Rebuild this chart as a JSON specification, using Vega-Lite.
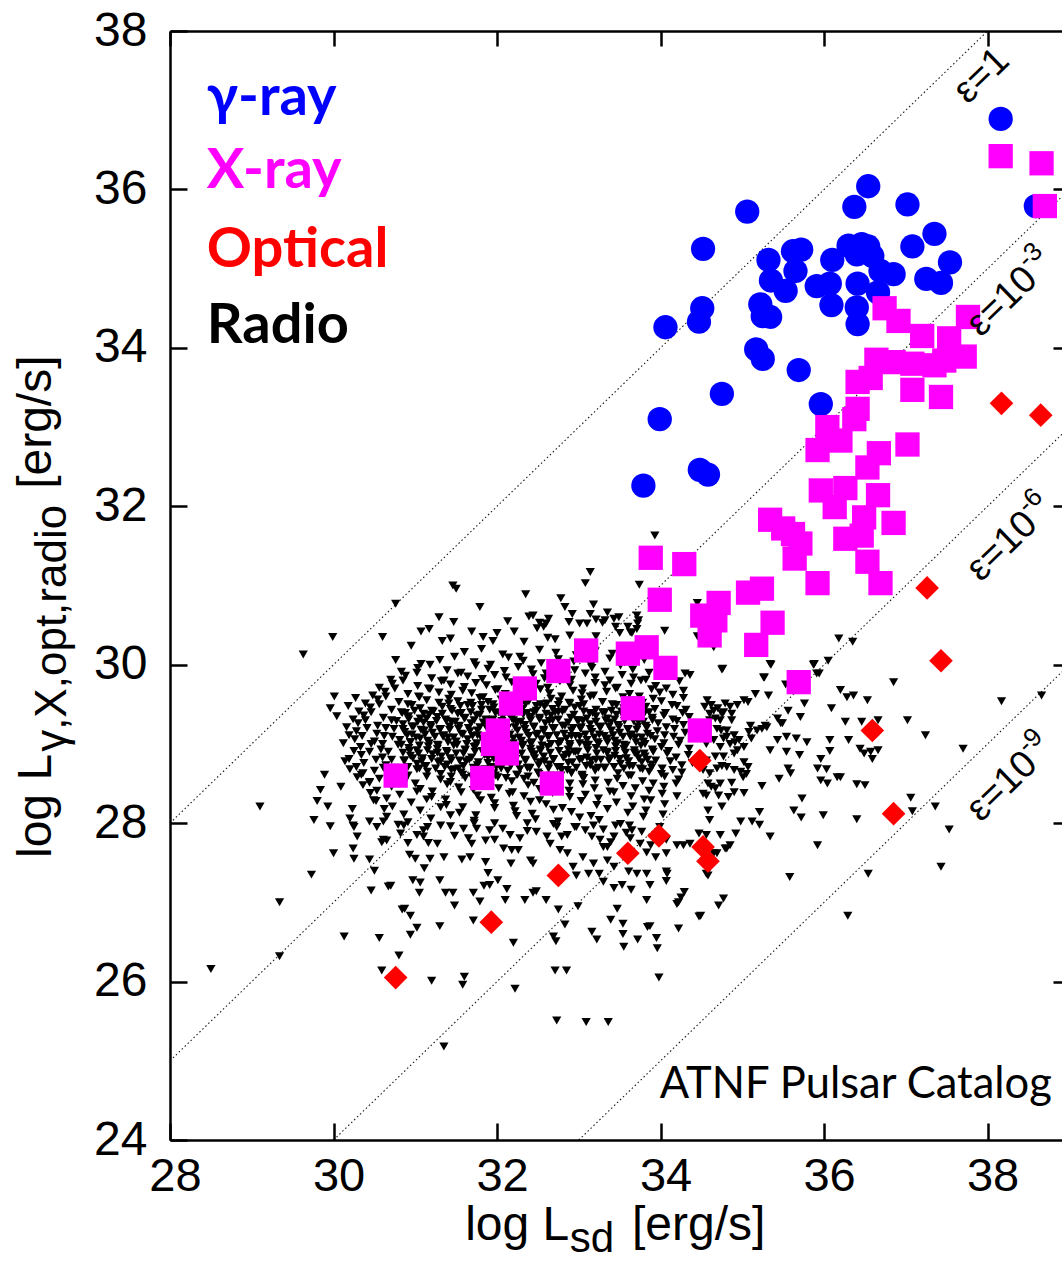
{
  "$schema": "https://vega.github.io/schema/vega-lite/v6.json",
  "width": 892,
  "height": 1109,
  "autosize": {"type": "none"},
  "padding": {"left": 170, "top": 31, "right": 0, "bottom": 123},
  "background": "white",
  "config": {"view": {"stroke": null}},
  "data": {"values": [{}]},
  "datasets": {
    "eps": [
      {"eps": "1", "x": 28, "y": 28}, {"eps": "1", "x": 38, "y": 38},
      {"eps": "1e-3", "x": 28, "y": 25}, {"eps": "1e-3", "x": 38.91, "y": 35.91},
      {"eps": "1e-6", "x": 30, "y": 24}, {"eps": "1e-6", "x": 38.91, "y": 32.91},
      {"eps": "1e-9", "x": 33, "y": 24}, {"eps": "1e-9", "x": 38.91, "y": 29.91}
    ],
    "gamma": [
      {"x": 38.16, "y": 36.89}, {"x": 38.59, "y": 35.79}, {"x": 36.54, "y": 36.04}, {"x": 36.37, "y": 35.78},
      {"x": 37.02, "y": 35.81}, {"x": 35.06, "y": 35.72}, {"x": 34.52, "y": 35.25}, {"x": 37.35, "y": 35.44},
      {"x": 37.08, "y": 35.28}, {"x": 37.54, "y": 35.08}, {"x": 37.25, "y": 34.87}, {"x": 37.43, "y": 34.82},
      {"x": 35.32, "y": 35.11}, {"x": 35.62, "y": 35.22}, {"x": 35.72, "y": 35.24}, {"x": 35.65, "y": 34.97},
      {"x": 35.35, "y": 34.85}, {"x": 35.53, "y": 34.72}, {"x": 36.10, "y": 35.11}, {"x": 36.30, "y": 35.29},
      {"x": 36.46, "y": 35.31}, {"x": 36.54, "y": 35.28}, {"x": 36.59, "y": 35.16}, {"x": 36.40, "y": 35.18},
      {"x": 36.69, "y": 34.97}, {"x": 36.85, "y": 34.93}, {"x": 35.91, "y": 34.78}, {"x": 36.07, "y": 34.81},
      {"x": 36.41, "y": 34.81}, {"x": 36.66, "y": 34.70}, {"x": 36.09, "y": 34.54}, {"x": 36.40, "y": 34.51},
      {"x": 36.41, "y": 34.30}, {"x": 34.51, "y": 34.50}, {"x": 34.47, "y": 34.33}, {"x": 34.06, "y": 34.26},
      {"x": 35.22, "y": 34.55}, {"x": 35.25, "y": 34.40}, {"x": 35.34, "y": 34.39}, {"x": 35.17, "y": 33.98},
      {"x": 35.25, "y": 33.86}, {"x": 35.69, "y": 33.72}, {"x": 34.75, "y": 33.42}, {"x": 33.99, "y": 33.10},
      {"x": 35.96, "y": 33.29}, {"x": 34.48, "y": 32.46}, {"x": 34.58, "y": 32.40}, {"x": 33.79, "y": 32.26}
    ],
    "xray": [
      {"x": 38.16, "y": 36.42}, {"x": 38.66, "y": 36.33}, {"x": 38.70, "y": 35.79}, {"x": 36.74, "y": 34.50},
      {"x": 36.91, "y": 34.34}, {"x": 37.76, "y": 34.39}, {"x": 37.20, "y": 34.15}, {"x": 37.53, "y": 34.12},
      {"x": 37.72, "y": 33.89}, {"x": 36.64, "y": 33.85}, {"x": 36.85, "y": 33.82}, {"x": 37.08, "y": 33.80},
      {"x": 37.35, "y": 33.78}, {"x": 37.47, "y": 33.84}, {"x": 36.41, "y": 33.57}, {"x": 36.57, "y": 33.62},
      {"x": 37.08, "y": 33.47}, {"x": 37.43, "y": 33.38}, {"x": 36.41, "y": 33.23}, {"x": 36.37, "y": 33.10},
      {"x": 36.04, "y": 33.00}, {"x": 37.02, "y": 32.78}, {"x": 36.67, "y": 32.67}, {"x": 36.20, "y": 32.83},
      {"x": 35.92, "y": 32.71}, {"x": 36.53, "y": 32.49}, {"x": 35.96, "y": 32.20}, {"x": 36.26, "y": 32.23},
      {"x": 36.66, "y": 32.14}, {"x": 36.13, "y": 31.99}, {"x": 36.49, "y": 31.86}, {"x": 36.85, "y": 31.79},
      {"x": 35.34, "y": 31.83}, {"x": 35.50, "y": 31.72}, {"x": 35.62, "y": 31.65}, {"x": 35.71, "y": 31.53},
      {"x": 36.26, "y": 31.59}, {"x": 36.46, "y": 31.63}, {"x": 35.64, "y": 31.34}, {"x": 36.53, "y": 31.30},
      {"x": 35.92, "y": 31.03}, {"x": 36.69, "y": 31.03}, {"x": 33.88, "y": 31.35}, {"x": 34.29, "y": 31.27},
      {"x": 33.99, "y": 30.82}, {"x": 34.71, "y": 30.78}, {"x": 35.07, "y": 30.91}, {"x": 35.24, "y": 30.96},
      {"x": 34.51, "y": 30.62}, {"x": 34.67, "y": 30.56}, {"x": 34.60, "y": 30.37}, {"x": 35.37, "y": 30.53},
      {"x": 35.17, "y": 30.25}, {"x": 35.69, "y": 29.78}, {"x": 33.83, "y": 30.22}, {"x": 33.60, "y": 30.14},
      {"x": 34.06, "y": 29.96}, {"x": 33.66, "y": 29.45}, {"x": 34.48, "y": 29.17}, {"x": 33.09, "y": 30.18},
      {"x": 32.75, "y": 29.92}, {"x": 32.34, "y": 29.70}, {"x": 32.17, "y": 29.51}, {"x": 32.01, "y": 29.17},
      {"x": 31.95, "y": 29.00}, {"x": 32.12, "y": 28.88}, {"x": 31.82, "y": 28.57}, {"x": 32.67, "y": 28.50},
      {"x": 30.76, "y": 28.60}
    ],
    "optical": [
      {"x": 38.17, "y": 33.30}, {"x": 38.65, "y": 33.15}, {"x": 37.26, "y": 30.97}, {"x": 37.43, "y": 30.05},
      {"x": 36.59, "y": 29.17}, {"x": 36.85, "y": 28.12}, {"x": 34.48, "y": 28.79}, {"x": 33.98, "y": 27.84},
      {"x": 33.60, "y": 27.62}, {"x": 34.52, "y": 27.70}, {"x": 34.58, "y": 27.52}, {"x": 32.75, "y": 27.34},
      {"x": 31.93, "y": 26.75}, {"x": 30.76, "y": 26.05}
    ],
    "radio": [
      {"x":31.60,"y":30.16},{"x":31.81,"y":30.20},{"x":32.07,"y":30.13},{"x":32.28,"y":30.10},{"x":32.52,"y":30.19},{"x":32.72,"y":30.15},{"x":32.97,"y":30.12},{"x":33.20,"y":30.17},{"x":33.41,"y":30.14},
      {"x":31.07,"y":30.01},{"x":31.30,"y":30.06},{"x":31.48,"y":30.10},{"x":31.72,"y":30.03},{"x":31.92,"y":30.00},{"x":32.14,"y":30.09},{"x":32.32,"y":30.05},{"x":32.54,"y":30.02},{"x":32.75,"y":30.07},{"x":32.94,"y":30.04},{"x":33.15,"y":29.99},{"x":33.38,"y":30.08},{"x":33.56,"y":30.03},{"x":33.80,"y":30.06},
      {"x":30.83,"y":29.91},{"x":31.03,"y":29.96},{"x":31.18,"y":30.00},{"x":31.39,"y":29.93},{"x":31.56,"y":29.90},{"x":31.74,"y":29.99},{"x":31.89,"y":29.95},{"x":32.09,"y":29.92},{"x":32.26,"y":29.97},{"x":32.42,"y":29.94},{"x":32.60,"y":29.89},{"x":32.79,"y":29.98},{"x":32.95,"y":29.93},{"x":33.16,"y":29.96},{"x":33.32,"y":29.91},{"x":33.51,"y":29.99},{"x":33.66,"y":29.94},{"x":33.86,"y":29.90},{"x":34.03,"y":29.97},
      {"x":30.70,"y":29.81},{"x":30.88,"y":29.86},{"x":31.02,"y":29.90},{"x":31.20,"y":29.83},{"x":31.35,"y":29.80},{"x":31.52,"y":29.89},{"x":31.64,"y":29.85},{"x":31.82,"y":29.82},{"x":31.97,"y":29.87},{"x":32.11,"y":29.84},{"x":32.26,"y":29.79},{"x":32.44,"y":29.88},{"x":32.58,"y":29.83},{"x":32.76,"y":29.86},{"x":32.91,"y":29.81},{"x":33.08,"y":29.89},{"x":33.20,"y":29.84},{"x":33.38,"y":29.80},{"x":33.53,"y":29.87},{"x":33.67,"y":29.84},{"x":33.82,"y":29.81},{"x":34.00,"y":29.86},{"x":34.14,"y":29.90},
      {"x":30.56,"y":29.71},{"x":30.72,"y":29.76},{"x":30.85,"y":29.80},{"x":31.03,"y":29.73},{"x":31.16,"y":29.70},{"x":31.32,"y":29.79},{"x":31.43,"y":29.75},{"x":31.60,"y":29.72},{"x":31.74,"y":29.77},{"x":31.87,"y":29.74},{"x":32.01,"y":29.69},{"x":32.18,"y":29.78},{"x":32.31,"y":29.73},{"x":32.48,"y":29.76},{"x":32.62,"y":29.71},{"x":32.77,"y":29.79},{"x":32.89,"y":29.74},{"x":33.05,"y":29.70},{"x":33.20,"y":29.77},{"x":33.32,"y":29.74},{"x":33.47,"y":29.71},{"x":33.64,"y":29.76},{"x":33.76,"y":29.80},{"x":33.94,"y":29.73},{"x":34.07,"y":29.70},{"x":34.23,"y":29.79},
      {"x":30.48,"y":29.61},{"x":30.63,"y":29.66},{"x":30.75,"y":29.70},{"x":30.91,"y":29.63},{"x":31.04,"y":29.60},{"x":31.18,"y":29.69},{"x":31.29,"y":29.65},{"x":31.44,"y":29.62},{"x":31.58,"y":29.67},{"x":31.69,"y":29.64},{"x":31.83,"y":29.59},{"x":31.98,"y":29.68},{"x":32.10,"y":29.63},{"x":32.26,"y":29.66},{"x":32.39,"y":29.61},{"x":32.53,"y":29.69},{"x":32.64,"y":29.64},{"x":32.79,"y":29.60},{"x":32.93,"y":29.67},{"x":33.04,"y":29.64},{"x":33.18,"y":29.61},{"x":33.34,"y":29.66},{"x":33.45,"y":29.70},{"x":33.62,"y":29.63},{"x":33.74,"y":29.60},{"x":33.89,"y":29.69},{"x":33.99,"y":29.65},{"x":34.15,"y":29.62},{"x":34.28,"y":29.67},
      {"x":30.27,"y":29.58},{"x":30.39,"y":29.51},{"x":30.54,"y":29.56},{"x":30.64,"y":29.60},{"x":30.80,"y":29.53},{"x":30.91,"y":29.50},{"x":31.05,"y":29.59},{"x":31.14,"y":29.55},{"x":31.29,"y":29.52},{"x":31.41,"y":29.57},{"x":31.52,"y":29.54},{"x":31.64,"y":29.49},{"x":31.79,"y":29.58},{"x":31.89,"y":29.53},{"x":32.05,"y":29.56},{"x":32.16,"y":29.51},{"x":32.30,"y":29.59},{"x":32.39,"y":29.54},{"x":32.53,"y":29.50},{"x":32.66,"y":29.57},{"x":32.76,"y":29.54},{"x":32.89,"y":29.51},{"x":33.03,"y":29.56},{"x":33.14,"y":29.60},{"x":33.29,"y":29.53},{"x":33.41,"y":29.50},{"x":33.54,"y":29.59},{"x":33.64,"y":29.55},{"x":33.78,"y":29.52},{"x":33.91,"y":29.57},{"x":34.01,"y":29.54},{"x":34.14,"y":29.49},{"x":34.28,"y":29.58},
      {"x":30.18,"y":29.48},{"x":30.31,"y":29.41},{"x":30.45,"y":29.46},{"x":30.56,"y":29.50},{"x":30.71,"y":29.43},{"x":30.83,"y":29.40},{"x":30.96,"y":29.49},{"x":31.06,"y":29.45},{"x":31.20,"y":29.42},{"x":31.33,"y":29.47},{"x":31.43,"y":29.44},{"x":31.56,"y":29.39},{"x":31.70,"y":29.48},{"x":31.81,"y":29.43},{"x":31.96,"y":29.46},{"x":32.08,"y":29.41},{"x":32.21,"y":29.49},{"x":32.31,"y":29.44},{"x":32.45,"y":29.40},{"x":32.58,"y":29.47},{"x":32.68,"y":29.44},{"x":32.80,"y":29.41},{"x":32.95,"y":29.46},{"x":33.06,"y":29.50},{"x":33.21,"y":29.43},{"x":33.32,"y":29.40},{"x":33.46,"y":29.49},{"x":33.55,"y":29.45},{"x":33.70,"y":29.42},{"x":33.82,"y":29.47},{"x":33.93,"y":29.44},{"x":34.06,"y":29.39},{"x":34.20,"y":29.48},{"x":34.31,"y":29.43},
      {"x":30.24,"y":29.31},{"x":30.37,"y":29.36},{"x":30.46,"y":29.40},{"x":30.61,"y":29.33},{"x":30.71,"y":29.30},{"x":30.84,"y":29.39},{"x":30.92,"y":29.35},{"x":31.06,"y":29.32},{"x":31.17,"y":29.37},{"x":31.27,"y":29.34},{"x":31.38,"y":29.29},{"x":31.52,"y":29.38},{"x":31.61,"y":29.33},{"x":31.75,"y":29.36},{"x":31.86,"y":29.31},{"x":31.98,"y":29.39},{"x":32.07,"y":29.34},{"x":32.20,"y":29.30},{"x":32.32,"y":29.37},{"x":32.41,"y":29.34},{"x":32.52,"y":29.31},{"x":32.66,"y":29.36},{"x":32.75,"y":29.40},{"x":32.90,"y":29.33},{"x":33.00,"y":29.30},{"x":33.13,"y":29.39},{"x":33.21,"y":29.35},{"x":33.35,"y":29.32},{"x":33.46,"y":29.37},{"x":33.55,"y":29.34},{"x":33.67,"y":29.29},{"x":33.80,"y":29.38},{"x":33.90,"y":29.33},{"x":34.04,"y":29.36},{"x":34.15,"y":29.31},{"x":34.27,"y":29.39},{"x":34.35,"y":29.34},
      {"x":30.16,"y":29.21},{"x":30.30,"y":29.26},{"x":30.39,"y":29.30},{"x":30.54,"y":29.23},{"x":30.64,"y":29.20},{"x":30.77,"y":29.29},{"x":30.85,"y":29.25},{"x":30.98,"y":29.22},{"x":31.10,"y":29.27},{"x":31.19,"y":29.24},{"x":31.31,"y":29.19},{"x":31.44,"y":29.28},{"x":31.54,"y":29.23},{"x":31.68,"y":29.26},{"x":31.79,"y":29.21},{"x":31.91,"y":29.29},{"x":32.00,"y":29.24},{"x":32.13,"y":29.20},{"x":32.24,"y":29.27},{"x":32.34,"y":29.24},{"x":32.45,"y":29.21},{"x":32.59,"y":29.26},{"x":32.68,"y":29.30},{"x":32.83,"y":29.23},{"x":32.93,"y":29.20},{"x":33.05,"y":29.29},{"x":33.14,"y":29.25},{"x":33.27,"y":29.22},{"x":33.39,"y":29.27},{"x":33.48,"y":29.24},{"x":33.60,"y":29.19},{"x":33.73,"y":29.28},{"x":33.82,"y":29.23},{"x":33.97,"y":29.26},{"x":34.07,"y":29.21},{"x":34.20,"y":29.29},{"x":34.28,"y":29.24},{"x":34.42,"y":29.20},
      {"x":30.19,"y":29.11},{"x":30.28,"y":29.16},{"x":30.41,"y":29.20},{"x":30.53,"y":29.13},{"x":30.62,"y":29.10},{"x":30.74,"y":29.19},{"x":30.87,"y":29.15},{"x":30.96,"y":29.12},{"x":31.11,"y":29.17},{"x":31.21,"y":29.14},{"x":31.34,"y":29.09},{"x":31.42,"y":29.18},{"x":31.56,"y":29.13},{"x":31.67,"y":29.16},{"x":31.76,"y":29.11},{"x":31.88,"y":29.19},{"x":32.01,"y":29.14},{"x":32.11,"y":29.10},{"x":32.25,"y":29.17},{"x":32.36,"y":29.14},{"x":32.48,"y":29.11},{"x":32.57,"y":29.16},{"x":32.70,"y":29.20},{"x":32.82,"y":29.13},{"x":32.91,"y":29.10},{"x":33.02,"y":29.19},{"x":33.16,"y":29.15},{"x":33.25,"y":29.12},{"x":33.40,"y":29.17},{"x":33.50,"y":29.14},{"x":33.63,"y":29.09},{"x":33.71,"y":29.18},{"x":33.84,"y":29.13},{"x":33.96,"y":29.16},{"x":34.05,"y":29.11},{"x":34.17,"y":29.19},{"x":34.30,"y":29.14},{"x":34.40,"y":29.10},
      {"x":30.12,"y":29.01},{"x":30.26,"y":29.06},{"x":30.35,"y":29.10},{"x":30.50,"y":29.03},{"x":30.60,"y":29.00},{"x":30.72,"y":29.09},{"x":30.81,"y":29.05},{"x":30.94,"y":29.02},{"x":31.06,"y":29.07},{"x":31.15,"y":29.04},{"x":31.27,"y":28.99},{"x":31.40,"y":29.08},{"x":31.50,"y":29.03},{"x":31.64,"y":29.06},{"x":31.75,"y":29.01},{"x":31.87,"y":29.09},{"x":31.95,"y":29.04},{"x":32.09,"y":29.00},{"x":32.20,"y":29.07},{"x":32.30,"y":29.04},{"x":32.41,"y":29.01},{"x":32.54,"y":29.06},{"x":32.64,"y":29.10},{"x":32.78,"y":29.03},{"x":32.89,"y":29.00},{"x":33.01,"y":29.09},{"x":33.10,"y":29.05},{"x":33.23,"y":29.02},{"x":33.35,"y":29.07},{"x":33.44,"y":29.04},{"x":33.55,"y":28.99},{"x":33.69,"y":29.08},{"x":33.79,"y":29.03},{"x":33.93,"y":29.06},{"x":34.04,"y":29.01},{"x":34.16,"y":29.09},{"x":34.24,"y":29.04},
      {"x":30.25,"y":28.91},{"x":30.33,"y":28.96},{"x":30.46,"y":29.00},{"x":30.58,"y":28.93},{"x":30.67,"y":28.90},{"x":30.79,"y":28.99},{"x":30.92,"y":28.95},{"x":31.02,"y":28.92},{"x":31.16,"y":28.97},{"x":31.27,"y":28.94},{"x":31.39,"y":28.89},{"x":31.47,"y":28.98},{"x":31.61,"y":28.93},{"x":31.72,"y":28.96},{"x":31.82,"y":28.91},{"x":31.93,"y":28.99},{"x":32.07,"y":28.94},{"x":32.16,"y":28.90},{"x":32.31,"y":28.97},{"x":32.41,"y":28.94},{"x":32.53,"y":28.91},{"x":32.62,"y":28.96},{"x":32.75,"y":29.00},{"x":32.87,"y":28.93},{"x":32.96,"y":28.90},{"x":33.08,"y":28.99},{"x":33.21,"y":28.95},{"x":33.30,"y":28.92},{"x":33.45,"y":28.97},{"x":33.55,"y":28.94},{"x":33.68,"y":28.89},{"x":33.76,"y":28.98},{"x":33.90,"y":28.93},{"x":34.01,"y":28.96},{"x":34.10,"y":28.91},{"x":34.22,"y":28.99},{"x":34.35,"y":28.94},
      {"x":30.19,"y":28.81},{"x":30.34,"y":28.86},{"x":30.44,"y":28.90},{"x":30.60,"y":28.83},{"x":30.71,"y":28.80},{"x":30.85,"y":28.89},{"x":30.94,"y":28.85},{"x":31.09,"y":28.82},{"x":31.21,"y":28.87},{"x":31.32,"y":28.84},{"x":31.44,"y":28.79},{"x":31.59,"y":28.88},{"x":31.69,"y":28.83},{"x":31.85,"y":28.86},{"x":31.96,"y":28.81},{"x":32.10,"y":28.89},{"x":32.19,"y":28.84},{"x":32.34,"y":28.80},{"x":32.46,"y":28.87},{"x":32.57,"y":28.84},{"x":32.69,"y":28.81},{"x":32.84,"y":28.86},{"x":32.94,"y":28.90},{"x":33.10,"y":28.83},{"x":33.21,"y":28.80},{"x":33.35,"y":28.89},{"x":33.44,"y":28.85},{"x":33.58,"y":28.82},{"x":33.71,"y":28.87},{"x":33.81,"y":28.84},{"x":33.94,"y":28.79},{"x":34.08,"y":28.88},{"x":34.19,"y":28.83},{"x":34.34,"y":28.86},
      {"x":30.14,"y":28.78},{"x":30.28,"y":28.71},{"x":30.37,"y":28.76},{"x":30.52,"y":28.80},{"x":30.64,"y":28.73},{"x":30.75,"y":28.70},{"x":30.87,"y":28.79},{"x":31.02,"y":28.75},{"x":31.12,"y":28.72},{"x":31.28,"y":28.77},{"x":31.39,"y":28.74},{"x":31.53,"y":28.69},{"x":31.62,"y":28.78},{"x":31.76,"y":28.73},{"x":31.89,"y":28.76},{"x":31.99,"y":28.71},{"x":32.12,"y":28.79},{"x":32.26,"y":28.74},{"x":32.37,"y":28.70},{"x":32.52,"y":28.77},{"x":32.64,"y":28.74},{"x":32.77,"y":28.71},{"x":32.87,"y":28.76},{"x":33.01,"y":28.80},{"x":33.14,"y":28.73},{"x":33.24,"y":28.70},{"x":33.37,"y":28.79},{"x":33.51,"y":28.75},{"x":33.62,"y":28.72},{"x":33.77,"y":28.77},{"x":33.89,"y":28.74},{"x":34.02,"y":28.69},{"x":34.12,"y":28.78},{"x":34.26,"y":28.73},{"x":34.39,"y":28.76},
      {"x":30.20,"y":28.68},{"x":30.34,"y":28.61},{"x":30.50,"y":28.66},{"x":30.61,"y":28.70},{"x":30.78,"y":28.63},{"x":30.91,"y":28.60},{"x":31.05,"y":28.69},{"x":31.15,"y":28.65},{"x":31.31,"y":28.62},{"x":31.44,"y":28.67},{"x":31.56,"y":28.64},{"x":31.69,"y":28.59},{"x":31.85,"y":28.68},{"x":31.96,"y":28.63},{"x":32.13,"y":28.66},{"x":32.25,"y":28.61},{"x":32.40,"y":28.69},{"x":32.50,"y":28.64},{"x":32.66,"y":28.60},{"x":32.79,"y":28.67},{"x":32.91,"y":28.64},{"x":33.04,"y":28.61},{"x":33.20,"y":28.66},{"x":33.31,"y":28.70},{"x":33.48,"y":28.63},{"x":33.61,"y":28.60},{"x":33.75,"y":28.69},{"x":33.86,"y":28.65},{"x":34.01,"y":28.62},{"x":34.15,"y":28.67},{"x":34.26,"y":28.64},
      {"x":30.29,"y":28.58},{"x":30.44,"y":28.51},{"x":30.56,"y":28.56},{"x":30.72,"y":28.60},{"x":30.87,"y":28.53},{"x":31.00,"y":28.50},{"x":31.14,"y":28.59},{"x":31.31,"y":28.55},{"x":31.43,"y":28.52},{"x":31.61,"y":28.57},{"x":31.74,"y":28.54},{"x":31.90,"y":28.49},{"x":32.01,"y":28.58},{"x":32.18,"y":28.53},{"x":32.33,"y":28.56},{"x":32.45,"y":28.51},{"x":32.60,"y":28.59},{"x":32.76,"y":28.54},{"x":32.89,"y":28.50},{"x":33.06,"y":28.57},{"x":33.20,"y":28.54},{"x":33.36,"y":28.51},{"x":33.47,"y":28.56},{"x":33.64,"y":28.60},{"x":33.78,"y":28.53},{"x":33.91,"y":28.50},{"x":34.05,"y":28.59},{"x":34.22,"y":28.55},
      {"x":30.36,"y":28.48},{"x":30.53,"y":28.41},{"x":30.71,"y":28.46},{"x":30.86,"y":28.50},{"x":31.06,"y":28.43},{"x":31.21,"y":28.40},{"x":31.39,"y":28.49},{"x":31.53,"y":28.45},{"x":31.71,"y":28.42},{"x":31.88,"y":28.47},{"x":32.02,"y":28.44},{"x":32.19,"y":28.39},{"x":32.38,"y":28.48},{"x":32.52,"y":28.43},{"x":32.72,"y":28.46},{"x":32.88,"y":28.41},{"x":33.05,"y":28.49},{"x":33.19,"y":28.44},{"x":33.38,"y":28.40},{"x":33.54,"y":28.47},{"x":33.69,"y":28.44},{"x":33.86,"y":28.41},{"x":34.04,"y":28.46},{"x":34.19,"y":28.50},
      {"x":30.45,"y":28.38},{"x":30.65,"y":28.31},{"x":30.81,"y":28.36},{"x":31.02,"y":28.40},{"x":31.20,"y":28.33},{"x":31.37,"y":28.30},{"x":31.56,"y":28.39},{"x":31.76,"y":28.35},{"x":31.93,"y":28.32},{"x":32.15,"y":28.37},{"x":32.33,"y":28.34},{"x":32.52,"y":28.29},{"x":32.68,"y":28.38},{"x":32.89,"y":28.33},{"x":33.08,"y":28.36},{"x":33.24,"y":28.31},{"x":33.43,"y":28.39},{"x":33.64,"y":28.34},{"x":33.80,"y":28.30},{"x":34.02,"y":28.37},{"x":34.20,"y":28.34},
      {"x":30.52,"y":28.28},{"x":30.72,"y":28.21},{"x":30.95,"y":28.26},{"x":31.14,"y":28.30},{"x":31.38,"y":28.23},{"x":31.58,"y":28.20},{"x":31.80,"y":28.29},{"x":31.97,"y":28.25},{"x":32.20,"y":28.22},{"x":32.41,"y":28.27},{"x":32.60,"y":28.24},{"x":32.80,"y":28.19},{"x":33.03,"y":28.28},{"x":33.22,"y":28.23},{"x":33.46,"y":28.26},{"x":33.66,"y":28.21},{"x":33.88,"y":28.29},{"x":34.05,"y":28.24},
      {"x":30.62,"y":28.18},{"x":30.86,"y":28.11},{"x":31.06,"y":28.16},{"x":31.31,"y":28.20},{"x":31.54,"y":28.13},{"x":31.74,"y":28.10},{"x":31.97,"y":28.19},{"x":32.22,"y":28.15},{"x":32.43,"y":28.12},{"x":32.69,"y":28.17},{"x":32.91,"y":28.14},{"x":33.15,"y":28.09},{"x":33.35,"y":28.18},{"x":33.60,"y":28.13},{"x":33.82,"y":28.16},{"x":34.03,"y":28.11},
      {"x":30.65,"y":28.08},{"x":30.91,"y":28.01},{"x":31.19,"y":28.06},{"x":31.43,"y":28.10},{"x":31.72,"y":28.03},{"x":31.97,"y":28.00},{"x":32.24,"y":28.09},{"x":32.47,"y":28.05},{"x":32.75,"y":28.02},{"x":33.01,"y":28.07},{"x":33.25,"y":28.04},{"x":33.51,"y":27.99},{"x":33.79,"y":28.08},
      {"x":30.79,"y":27.98},{"x":31.10,"y":27.91},{"x":31.43,"y":27.96},{"x":31.72,"y":28.00},{"x":32.07,"y":27.93},{"x":32.37,"y":27.90},{"x":32.69,"y":27.99},{"x":32.97,"y":27.95},{"x":33.30,"y":27.92},{"x":33.62,"y":27.97},
      {"x":31.41,"y":29.51},{"x":31.55,"y":29.48},{"x":31.68,"y":29.52},{"x":31.81,"y":29.49},{"x":31.95,"y":29.50},{"x":32.08,"y":29.47},{"x":32.21,"y":29.53},{"x":32.35,"y":29.50},{"x":32.48,"y":29.48},{"x":32.61,"y":29.51},{"x":32.75,"y":29.49},{"x":32.88,"y":29.52},{"x":33.01,"y":29.48},
      {"x":30.88,"y":29.39},{"x":30.99,"y":29.42},{"x":31.10,"y":29.38},{"x":31.22,"y":29.41},{"x":31.33,"y":29.38},{"x":31.45,"y":29.42},{"x":31.56,"y":29.39},{"x":31.68,"y":29.40},{"x":31.79,"y":29.37},{"x":31.91,"y":29.43},{"x":32.02,"y":29.40},{"x":32.14,"y":29.38},{"x":32.25,"y":29.41},{"x":32.37,"y":29.39},{"x":32.48,"y":29.42},{"x":32.60,"y":29.38},{"x":32.71,"y":29.40},{"x":32.83,"y":29.43},{"x":32.94,"y":29.37},{"x":33.06,"y":29.41},{"x":33.17,"y":29.39},{"x":33.29,"y":29.40},{"x":33.40,"y":29.42},{"x":33.52,"y":29.41},{"x":33.63,"y":29.38},{"x":33.75,"y":29.42},{"x":33.86,"y":29.40},
      {"x":30.92,"y":29.31},{"x":31.03,"y":29.28},{"x":31.14,"y":29.32},{"x":31.26,"y":29.29},{"x":31.37,"y":29.31},{"x":31.49,"y":29.28},{"x":31.60,"y":29.32},{"x":31.72,"y":29.30},{"x":31.83,"y":29.27},{"x":31.95,"y":29.31},{"x":32.06,"y":29.29},{"x":32.18,"y":29.32},{"x":32.29,"y":29.28},{"x":32.41,"y":29.30},{"x":32.52,"y":29.33},{"x":32.64,"y":29.29},{"x":32.75,"y":29.31},{"x":32.87,"y":29.27},{"x":32.98,"y":29.30},{"x":33.10,"y":29.32},{"x":33.21,"y":29.28},{"x":33.33,"y":29.30},{"x":33.44,"y":29.31},{"x":33.56,"y":29.29},{"x":33.67,"y":29.32},{"x":33.79,"y":29.28},{"x":33.90,"y":29.30},
      {"x":30.85,"y":29.19},{"x":30.96,"y":29.22},{"x":31.07,"y":29.18},{"x":31.19,"y":29.21},{"x":31.30,"y":29.18},{"x":31.42,"y":29.22},{"x":31.53,"y":29.19},{"x":31.65,"y":29.20},{"x":31.76,"y":29.17},{"x":31.88,"y":29.23},{"x":31.99,"y":29.20},{"x":32.11,"y":29.18},{"x":32.22,"y":29.21},{"x":32.34,"y":29.19},{"x":32.45,"y":29.22},{"x":32.57,"y":29.18},{"x":32.68,"y":29.20},{"x":32.80,"y":29.23},{"x":32.91,"y":29.17},{"x":33.03,"y":29.21},{"x":33.14,"y":29.19},{"x":33.26,"y":29.20},{"x":33.37,"y":29.22},{"x":33.49,"y":29.21},{"x":33.60,"y":29.18},{"x":33.72,"y":29.22},{"x":33.83,"y":29.20},
      {"x":30.90,"y":29.11},{"x":31.01,"y":29.08},{"x":31.12,"y":29.12},{"x":31.24,"y":29.09},{"x":31.35,"y":29.11},{"x":31.47,"y":29.08},{"x":31.58,"y":29.12},{"x":31.70,"y":29.10},{"x":31.81,"y":29.07},{"x":31.93,"y":29.11},{"x":32.04,"y":29.09},{"x":32.16,"y":29.12},{"x":32.27,"y":29.08},{"x":32.39,"y":29.10},{"x":32.50,"y":29.13},{"x":32.62,"y":29.09},{"x":32.73,"y":29.11},{"x":32.85,"y":29.07},{"x":32.96,"y":29.10},{"x":33.08,"y":29.12},{"x":33.19,"y":29.08},{"x":33.31,"y":29.10},{"x":33.42,"y":29.11},{"x":33.54,"y":29.09},{"x":33.65,"y":29.12},{"x":33.77,"y":29.08},{"x":33.88,"y":29.10},
      {"x":30.83,"y":28.99},{"x":30.94,"y":29.02},{"x":31.05,"y":28.98},{"x":31.17,"y":29.01},{"x":31.28,"y":28.98},{"x":31.40,"y":29.02},{"x":31.51,"y":28.99},{"x":31.63,"y":29.00},{"x":31.74,"y":28.97},{"x":31.86,"y":29.03},{"x":31.97,"y":29.00},{"x":32.09,"y":28.98},{"x":32.20,"y":29.01},{"x":32.32,"y":28.99},{"x":32.43,"y":29.02},{"x":32.55,"y":28.98},{"x":32.66,"y":29.00},{"x":32.78,"y":29.03},{"x":32.89,"y":28.97},{"x":33.01,"y":29.01},{"x":33.12,"y":28.99},{"x":33.24,"y":29.00},{"x":33.35,"y":29.02},{"x":33.47,"y":29.01},{"x":33.58,"y":28.98},{"x":33.70,"y":29.02},{"x":33.81,"y":29.00},
      {"x":30.93,"y":28.91},{"x":31.04,"y":28.88},{"x":31.15,"y":28.92},{"x":31.27,"y":28.89},{"x":31.38,"y":28.91},{"x":31.50,"y":28.88},{"x":31.61,"y":28.92},{"x":31.73,"y":28.90},{"x":31.84,"y":28.87},{"x":31.96,"y":28.91},{"x":32.07,"y":28.89},{"x":32.19,"y":28.92},{"x":32.30,"y":28.88},{"x":32.42,"y":28.90},{"x":32.53,"y":28.93},{"x":32.65,"y":28.89},{"x":32.76,"y":28.91},{"x":32.88,"y":28.87},{"x":32.99,"y":28.90},{"x":33.11,"y":28.92},{"x":33.22,"y":28.88},{"x":33.34,"y":28.90},{"x":33.45,"y":28.91},{"x":33.57,"y":28.89},{"x":33.68,"y":28.92},{"x":33.80,"y":28.88},{"x":33.91,"y":28.90},
      {"x":30.86,"y":28.79},{"x":30.97,"y":28.82},{"x":31.08,"y":28.78},{"x":31.20,"y":28.81},{"x":31.31,"y":28.78},{"x":31.43,"y":28.82},{"x":31.54,"y":28.79},{"x":31.66,"y":28.80},{"x":31.77,"y":28.77},{"x":31.89,"y":28.83},{"x":32.00,"y":28.80},{"x":32.12,"y":28.78},{"x":32.23,"y":28.81},{"x":32.35,"y":28.79},{"x":32.46,"y":28.82},{"x":32.58,"y":28.78},{"x":32.69,"y":28.80},{"x":32.81,"y":28.83},{"x":32.92,"y":28.77},{"x":33.04,"y":28.81},{"x":33.15,"y":28.79},{"x":33.27,"y":28.80},{"x":33.38,"y":28.82},{"x":33.50,"y":28.81},{"x":33.61,"y":28.78},{"x":33.73,"y":28.82},{"x":33.84,"y":28.80},
      {"x":30.91,"y":28.71},{"x":31.02,"y":28.68},{"x":31.13,"y":28.72},{"x":31.25,"y":28.69},{"x":31.36,"y":28.71},{"x":31.48,"y":28.68},{"x":31.59,"y":28.72},{"x":31.71,"y":28.70},{"x":31.82,"y":28.67},{"x":31.94,"y":28.71},{"x":32.05,"y":28.69},{"x":32.17,"y":28.72},{"x":32.28,"y":28.68},{"x":32.40,"y":28.70},{"x":32.51,"y":28.73},{"x":32.63,"y":28.69},{"x":32.74,"y":28.71},{"x":32.86,"y":28.67},{"x":32.97,"y":28.70},{"x":33.09,"y":28.72},{"x":33.20,"y":28.68},{"x":33.32,"y":28.70},{"x":33.43,"y":28.71},{"x":33.55,"y":28.69},{"x":33.66,"y":28.72},{"x":33.78,"y":28.68},{"x":33.89,"y":28.70},
      {"x":31.44,"y":28.59},{"x":31.58,"y":28.61},{"x":31.71,"y":28.58},{"x":31.84,"y":28.62},{"x":31.98,"y":28.60},{"x":32.11,"y":28.57},{"x":32.24,"y":28.61},{"x":32.38,"y":28.59},{"x":32.51,"y":28.62},{"x":32.64,"y":28.58},{"x":32.78,"y":28.60},{"x":32.91,"y":28.63},{"x":33.04,"y":28.59},
      {"x":31.46,"y":31.00},{"x":31.50,"y":30.96},{"x":33.08,"y":31.03},{"x":33.14,"y":31.17},{"x":33.74,"y":31.01},{"x":33.93,"y":31.63},{"x":32.35,"y":30.89},{"x":32.78,"y":30.84},{"x":34.45,"y":30.78},{"x":30.76,"y":30.77},{"x":31.79,"y":30.73},{"x":32.83,"y":30.73},{"x":33.18,"y":30.76},{"x":31.29,"y":30.60},{"x":31.47,"y":30.54},{"x":31.07,"y":30.42},{"x":29.99,"y":30.35},{"x":29.63,"y":30.13},{"x":30.95,"y":30.24},{"x":30.76,"y":30.06},
      {"x":33.35,"y":30.66},{"x":33.43,"y":30.58},{"x":33.32,"y":30.56},{"x":33.49,"y":30.60},{"x":33.71,"y":30.62},{"x":33.73,"y":30.56},{"x":33.45,"y":30.48},{"x":33.60,"y":30.48},{"x":33.50,"y":30.40},{"x":33.65,"y":30.40},{"x":33.71,"y":30.45},{"x":34.05,"y":30.43},{"x":34.45,"y":30.36},{"x":34.65,"y":30.22},{"x":34.76,"y":29.95},{"x":34.30,"y":29.89},{"x":34.36,"y":29.87},
      {"x":32.39,"y":30.61},{"x":32.44,"y":30.62},{"x":32.63,"y":30.58},{"x":32.60,"y":30.52},{"x":32.88,"y":30.54},{"x":33.01,"y":30.52},{"x":33.10,"y":30.52},{"x":33.21,"y":30.57},{"x":33.29,"y":30.53},{"x":32.92,"y":30.64},{"x":33.14,"y":30.64},{"x":33.63,"y":30.41},{"x":33.72,"y":30.52},{"x":31.69,"y":30.42},{"x":31.83,"y":30.35},{"x":31.43,"y":30.33},{"x":32.52,"y":30.53},{"x":32.49,"y":30.46},{"x":32.57,"y":30.48},{"x":32.33,"y":30.29},{"x":32.71,"y":30.32},{"x":32.62,"y":30.34},{"x":32.13,"y":30.55},{"x":33.21,"y":30.36},{"x":32.89,"y":30.37},{"x":32.00,"y":30.40},{"x":31.17,"y":30.45},{"x":30.60,"y":30.35},{"x":31.33,"y":30.30},{"x":31.95,"y":30.30},{"x":32.21,"y":30.42},
      {"x":34.57,"y":29.55},{"x":34.62,"y":29.49},{"x":34.70,"y":29.45},{"x":34.75,"y":29.38},{"x":34.60,"y":29.38},{"x":34.67,"y":29.32},{"x":34.74,"y":29.17},{"x":34.81,"y":29.09},{"x":34.91,"y":29.02},{"x":34.94,"y":28.92},{"x":34.87,"y":29.38},{"x":34.94,"y":29.49},{"x":35.02,"y":29.55},{"x":35.16,"y":29.63},{"x":35.32,"y":29.61},{"x":35.26,"y":29.84},{"x":35.35,"y":30.00},{"x":35.53,"y":29.75},{"x":35.56,"y":29.42},{"x":35.71,"y":29.34},{"x":35.76,"y":29.51},{"x":35.87,"y":30.00},{"x":35.91,"y":29.89},{"x":36.05,"y":30.05},{"x":36.20,"y":29.68},{"x":36.28,"y":29.59},{"x":36.36,"y":29.61},{"x":36.26,"y":29.28},{"x":36.46,"y":29.28},{"x":36.30,"y":29.05},{"x":36.07,"y":29.05},{"x":36.53,"y":29.55},{"x":36.66,"y":29.30},{"x":36.85,"y":29.78},{"x":37.02,"y":29.30},{"x":37.24,"y":29.11},{"x":37.70,"y":28.94},{"x":38.17,"y":29.54},{"x":38.66,"y":29.61},{"x":36.18,"y":30.33},{"x":36.35,"y":30.29},{"x":35.66,"y":29.07},{"x":35.79,"y":29.02},{"x":35.43,"y":29.05},{"x":35.49,"y":29.26},{"x":35.30,"y":29.21},{"x":35.18,"y":29.17},{"x":35.11,"y":29.07},{"x":35.34,"y":28.92},{"x":35.54,"y":28.90},{"x":35.96,"y":28.81},{"x":36.44,"y":28.94},{"x":36.57,"y":28.90},{"x":36.66,"y":28.92},
      {"x":34.75,"y":29.94},{"x":35.34,"y":30.01},{"x":35.27,"y":29.84},{"x":35.88,"y":30.01},{"x":35.94,"y":29.89},{"x":36.09,"y":29.45},{"x":35.07,"y":29.53},{"x":34.79,"y":29.51},{"x":35.43,"y":29.32},{"x":35.28,"y":29.23},{"x":35.47,"y":29.26},{"x":35.54,"y":29.09},{"x":35.10,"y":29.23},{"x":35.08,"y":29.15},{"x":35.24,"y":29.19},{"x":35.70,"y":28.86},{"x":36.07,"y":28.91},{"x":36.49,"y":28.88},{"x":36.59,"y":28.81},
      {"x":36.03,"y":28.68},{"x":35.96,"y":28.54},{"x":36.04,"y":28.50},{"x":36.16,"y":28.58},{"x":36.20,"y":28.58},{"x":36.40,"y":28.49},{"x":36.50,"y":28.48},{"x":35.92,"y":28.69},{"x":35.56,"y":28.69},{"x":35.59,"y":28.63},{"x":35.45,"y":28.56},{"x":35.24,"y":28.47},
      {"x":34.73,"y":27.85},{"x":34.56,"y":27.85},{"x":34.90,"y":28.39},{"x":35.02,"y":28.38},{"x":34.83,"y":28.33},{"x":34.71,"y":28.35},{"x":34.62,"y":28.46},{"x":34.56,"y":28.35},{"x":34.87,"y":28.51},{"x":35.01,"y":28.58},{"x":34.98,"y":28.65},{"x":35.05,"y":28.62},{"x":34.90,"y":28.67},{"x":34.81,"y":28.71},{"x":34.75,"y":28.72},{"x":34.69,"y":28.69},{"x":34.60,"y":28.63},{"x":34.52,"y":28.67},{"x":34.58,"y":28.50},{"x":34.67,"y":28.44},{"x":34.52,"y":28.37},{"x":34.73,"y":28.50},{"x":34.75,"y":28.21},{"x":34.58,"y":28.16},{"x":34.60,"y":28.04},
      {"x":34.54,"y":29.47},{"x":34.65,"y":29.42},{"x":34.77,"y":29.40},{"x":34.85,"y":29.47},{"x":34.87,"y":29.30},{"x":34.73,"y":29.30},{"x":34.60,"y":29.30},{"x":34.52,"y":29.21},{"x":34.69,"y":29.19},{"x":34.81,"y":29.17},{"x":34.90,"y":29.11},{"x":34.77,"y":29.07},{"x":34.65,"y":29.05},{"x":34.56,"y":29.00},{"x":34.73,"y":28.96},{"x":34.85,"y":29.00},{"x":34.96,"y":29.05},{"x":35.02,"y":28.96},{"x":34.90,"y":28.88},{"x":34.77,"y":28.84},{"x":34.67,"y":28.84},{"x":34.56,"y":28.79},{"x":35.02,"y":28.77},{"x":35.07,"y":28.71},
      {"x":35.73,"y":28.31},{"x":35.63,"y":28.16},{"x":35.72,"y":28.07},{"x":35.99,"y":28.10},{"x":36.40,"y":28.05},{"x":37.06,"y":28.32},{"x":37.08,"y":28.15},{"x":37.36,"y":28.21},{"x":37.53,"y":27.92},{"x":37.43,"y":27.45},{"x":36.54,"y":27.36},{"x":36.29,"y":26.83},{"x":35.92,"y":27.72},{"x":35.58,"y":27.32},{"x":35.34,"y":27.83},{"x":35.21,"y":28.14},{"x":35.12,"y":28.02},{"x":34.98,"y":28.02},{"x":34.92,"y":27.87},{"x":34.85,"y":27.72},{"x":34.79,"y":27.68},{"x":34.77,"y":27.05},{"x":34.71,"y":26.96},{"x":34.49,"y":26.83},{"x":34.56,"y":27.36},{"x":35.21,"y":27.98},{"x":34.69,"y":27.62},
      {"x":28.50,"y":26.16},{"x":29.34,"y":27.00},{"x":29.34,"y":26.32},{"x":29.73,"y":27.35},{"x":30.00,"y":27.62},{"x":30.24,"y":27.68},{"x":30.25,"y":27.55},{"x":30.44,"y":27.54},{"x":30.50,"y":27.40},{"x":30.46,"y":27.15},{"x":30.67,"y":27.20},{"x":30.70,"y":27.21},{"x":30.13,"y":26.57},{"x":30.56,"y":26.55},{"x":30.80,"y":26.33},{"x":30.59,"y":26.14},{"x":30.84,"y":26.91},{"x":30.87,"y":26.92},{"x":30.94,"y":26.83},{"x":31.02,"y":26.68},{"x":30.94,"y":26.59},{"x":30.97,"y":27.28},{"x":31.06,"y":27.25},{"x":31.05,"y":27.12},{"x":31.30,"y":27.28},{"x":31.30,"y":26.70},{"x":31.71,"y":26.77},{"x":31.20,"y":26.01},{"x":31.58,"y":25.96},{"x":31.60,"y":26.06},{"x":31.35,"y":25.18},{"x":32.20,"y":26.49},{"x":32.22,"y":25.91},{"x":32.71,"y":26.14},{"x":32.85,"y":26.14},{"x":32.73,"y":25.51},{"x":33.09,"y":25.49},{"x":33.36,"y":25.49},{"x":32.69,"y":26.57},{"x":32.72,"y":26.51},{"x":33.16,"y":26.63},{"x":33.22,"y":26.53},{"x":33.39,"y":26.78},{"x":33.47,"y":26.92},{"x":32.99,"y":26.95},{"x":32.83,"y":26.72},{"x":32.75,"y":26.91},{"x":32.60,"y":27.03},{"x":32.34,"y":27.03},{"x":32.44,"y":27.12},{"x":32.48,"y":27.14},{"x":32.10,"y":27.03},{"x":32.12,"y":27.17},{"x":31.79,"y":27.01},{"x":31.48,"y":26.96},{"x":31.37,"y":27.12},{"x":31.46,"y":27.12},{"x":31.71,"y":27.12},{"x":31.84,"y":27.21},{"x":31.91,"y":27.22},{"x":32.01,"y":27.28},{"x":31.89,"y":27.37},
      {"x":33.98,"y":26.05},{"x":33.54,"y":26.73},{"x":33.54,"y":26.60},{"x":33.55,"y":26.44},{"x":33.72,"y":26.53},{"x":33.84,"y":26.69},{"x":33.87,"y":26.70},{"x":33.95,"y":26.55},{"x":33.96,"y":26.42},{"x":34.22,"y":26.67},{"x":33.83,"y":27.03},{"x":34.47,"y":26.82},{"x":34.22,"y":27.00},{"x":34.20,"y":26.98},{"x":34.29,"y":27.13},{"x":34.25,"y":27.06},{"x":34.08,"y":27.36},{"x":34.07,"y":27.27},{"x":34.58,"y":27.34},
      {"x":29.76,"y":28.04},{"x":29.96,"y":27.96},{"x":30.24,"y":27.97},{"x":30.44,"y":28.02},{"x":30.61,"y":28.02},{"x":30.82,"y":27.87},{"x":30.86,"y":27.97},{"x":31.02,"y":27.85},{"x":31.10,"y":27.83},{"x":31.16,"y":27.75},{"x":30.91,"y":27.75},{"x":31.15,"y":27.95},{"x":31.31,"y":27.97},{"x":31.48,"y":27.84},{"x":31.59,"y":27.93},{"x":31.65,"y":27.81},{"x":31.69,"y":27.74},{"x":31.75,"y":27.93},{"x":31.86,"y":27.78},{"x":31.91,"y":27.91},{"x":31.97,"y":27.79},{"x":32.08,"y":27.68},{"x":32.16,"y":27.85},{"x":32.18,"y":27.66},{"x":32.26,"y":27.66},{"x":32.28,"y":27.81},{"x":32.37,"y":28.00},{"x":32.48,"y":27.89},{"x":32.61,"y":27.83},{"x":32.65,"y":27.74},{"x":32.73,"y":27.95},{"x":32.79,"y":27.83},{"x":32.77,"y":27.66},{"x":32.86,"y":27.62},{"x":32.95,"y":27.95},{"x":33.05,"y":27.57},{"x":33.08,"y":27.91},{"x":33.16,"y":27.83},{"x":33.18,"y":27.49},{"x":33.26,"y":27.79},{"x":33.35,"y":27.70},{"x":33.43,"y":27.83},{"x":30.93,"y":27.60},{"x":31.00,"y":27.55},{"x":31.18,"y":27.55},{"x":31.35,"y":27.57},{"x":31.57,"y":27.54},{"x":31.67,"y":27.57},{"x":31.86,"y":27.51},{"x":32.17,"y":27.49},{"x":32.41,"y":27.53},{"x":32.44,"y":27.49},{"x":30.59,"y":27.76},{"x":30.65,"y":27.78},{"x":31.11,"y":27.43},
      {"x":33.18,"y":27.97},{"x":33.45,"y":27.97},{"x":33.58,"y":27.88},{"x":33.77,"y":27.89},{"x":33.99,"y":27.95},{"x":32.86,"y":27.85},{"x":33.30,"y":27.70},{"x":33.39,"y":27.76},{"x":33.63,"y":27.81},{"x":33.75,"y":27.74},{"x":33.88,"y":27.72},{"x":34.07,"y":27.79},{"x":34.20,"y":27.72},{"x":34.28,"y":27.72},{"x":34.36,"y":27.74},{"x":34.47,"y":27.87},{"x":34.81,"y":27.68},{"x":34.65,"y":27.62},{"x":34.07,"y":27.62},{"x":33.94,"y":27.57},{"x":33.83,"y":27.63},{"x":33.35,"y":27.53},{"x":33.43,"y":27.45},{"x":33.25,"y":27.36},{"x":33.12,"y":27.36},{"x":32.93,"y":27.45},{"x":32.97,"y":27.34},{"x":33.61,"y":27.39},{"x":33.71,"y":27.36},{"x":33.83,"y":27.36},{"x":34.07,"y":27.39},{"x":33.87,"y":27.22},{"x":33.64,"y":27.16},{"x":33.53,"y":27.22},{"x":33.43,"y":27.18},{"x":33.30,"y":27.26},{"x":33.65,"y":27.91},
      {"x":29.89,"y":28.61},{"x":29.84,"y":28.42},{"x":30.09,"y":28.46},{"x":29.80,"y":28.28},{"x":29.93,"y":28.21},{"x":30.23,"y":28.18},{"x":30.20,"y":28.06},{"x":30.25,"y":27.95},{"x":29.10,"y":28.21},{"x":29.96,"y":29.45},{"x":30.01,"y":29.60},{"x":30.04,"y":29.35},{"x":30.36,"y":28.63},{"x":30.44,"y":28.52},{"x":30.49,"y":28.29},{"x":30.53,"y":27.95},{"x":30.29,"y":27.83},{"x":30.61,"y":27.79},{"x":31.27,"y":27.74}
    ]
  },
  "layer": [
    {
      "data": {"name": "eps"},
      "mark": {"type": "line", "strokeDash": [1.5, 2.6], "strokeWidth": 1.1, "color": "#1a1a1a", "clip": true},
      "encoding": {
        "x": {"field": "x", "type": "quantitative", "scale": {"domain": [28, 38.91], "nice": false, "zero": false},
          "axis": {"orient": "bottom", "values": [28, 30, 32, 34, 36, 38], "title": null, "grid": false,
            "tickSize": -17, "tickWidth": 2.5, "tickColor": "black", "domainWidth": 2.5, "domainColor": "black",
            "labelFont": "Liberation Sans", "labelFontSize": 47, "labelColor": "black", "labelPadding": 30,
            "labelFlush": false, "labelOverlap": false, "labelOffset": 5, "zindex": 1}},
        "y": {"field": "y", "type": "quantitative", "scale": {"domain": [24, 38], "nice": false, "zero": false},
          "axis": {"orient": "left", "values": [24, 26, 28, 30, 32, 34, 36, 38], "title": null, "grid": false,
            "tickSize": -17, "tickWidth": 2.5, "tickColor": "black", "domainWidth": 2.5, "domainColor": "black",
            "labelFont": "Liberation Sans", "labelFontSize": 48, "labelColor": "black", "labelPadding": 40,
            "labelFlush": false, "labelOverlap": false, "zindex": 1}},
        "detail": {"field": "eps"}
      }
    },
    {
      "data": {"name": "radio"},
      "mark": {"type": "point", "shape": "triangle-down", "filled": true, "size": 85, "color": "black", "opacity": 1},
      "encoding": {
        "x": {"field": "x", "type": "quantitative", "scale": {"domain": [28, 38.91], "nice": false, "zero": false},
          "axis": {"orient": "top", "values": [28, 30, 32, 34, 36, 38], "labels": false, "title": null, "grid": false,
            "tickSize": -15, "tickWidth": 2.5, "tickColor": "black", "domainWidth": 2.5, "domainColor": "black", "zindex": 1}},
        "y": {"field": "y", "type": "quantitative", "scale": {"domain": [24, 38], "nice": false, "zero": false},
          "axis": {"orient": "right", "values": [26, 28, 30, 32, 34, 36], "labels": false, "title": null, "grid": false,
            "domain": false, "tickSize": -9, "tickWidth": 2.5, "tickColor": "black", "zindex": 1}}
      }
    },
    {
      "data": {"name": "gamma"},
      "mark": {"type": "point", "shape": "circle", "filled": true, "size": 590, "color": "#0000ff", "opacity": 1},
      "encoding": {
        "x": {"field": "x", "type": "quantitative", "scale": {"domain": [28, 38.91], "nice": false, "zero": false}, "axis": null},
        "y": {"field": "y", "type": "quantitative", "scale": {"domain": [24, 38], "nice": false, "zero": false}, "axis": null}
      }
    },
    {
      "data": {"name": "xray"},
      "mark": {"type": "point", "shape": "square", "filled": true, "size": 590, "color": "#ff00ff", "opacity": 1},
      "encoding": {
        "x": {"field": "x", "type": "quantitative", "scale": {"domain": [28, 38.91], "nice": false, "zero": false}, "axis": null},
        "y": {"field": "y", "type": "quantitative", "scale": {"domain": [24, 38], "nice": false, "zero": false}, "axis": null}
      }
    },
    {
      "data": {"name": "optical"},
      "mark": {"type": "point", "shape": "diamond", "filled": true, "size": 560, "color": "#ff0000", "opacity": 1},
      "encoding": {
        "x": {"field": "x", "type": "quantitative", "scale": {"domain": [28, 38.91], "nice": false, "zero": false}, "axis": null},
        "y": {"field": "y", "type": "quantitative", "scale": {"domain": [24, 38], "nice": false, "zero": false}, "axis": null}
      }
    },
    {
      "mark": {"type": "text", "text": "γ-ray", "font": "Lato", "fontWeight": "bold", "fontSize": 56, "color": "#0000ff", "align": "left", "baseline": "alphabetic"},
      "encoding": {"x": {"datum": 28.45, "type": "quantitative", "axis": null}, "y": {"datum": 36.94, "type": "quantitative", "axis": null}}
    },
    {
      "mark": {"type": "text", "text": "X-ray", "font": "Lato", "fontWeight": "bold", "fontSize": 56, "color": "#ff00ff", "align": "left", "baseline": "alphabetic"},
      "encoding": {"x": {"datum": 28.45, "type": "quantitative", "axis": null}, "y": {"datum": 36.02, "type": "quantitative", "axis": null}}
    },
    {
      "mark": {"type": "text", "text": "Optical", "font": "Lato", "fontWeight": "bold", "fontSize": 56, "color": "#ff0000", "align": "left", "baseline": "alphabetic"},
      "encoding": {"x": {"datum": 28.45, "type": "quantitative", "axis": null}, "y": {"datum": 35.02, "type": "quantitative", "axis": null}}
    },
    {
      "mark": {"type": "text", "text": "Radio", "font": "Lato", "fontWeight": "bold", "fontSize": 56, "color": "#000000", "align": "left", "baseline": "alphabetic"},
      "encoding": {"x": {"datum": 28.45, "type": "quantitative", "axis": null}, "y": {"datum": 34.06, "type": "quantitative", "axis": null}}
    },
    {
      "mark": {"type": "text", "text": "ATNF Pulsar Catalog", "font": "Lato", "fontSize": 43.5, "color": "#000000", "align": "left", "baseline": "alphabetic"},
      "encoding": {"x": {"datum": 33.99, "type": "quantitative", "axis": null}, "y": {"datum": 24.53, "type": "quantitative", "axis": null}}
    },
    {
      "mark": {"type": "text", "text": "ε=1", "font": "Liberation Sans", "fontSize": 38, "angle": 316, "color": "#000000", "align": "center", "baseline": "middle"},
      "encoding": {"x": {"datum": 37.93, "type": "quantitative", "axis": null}, "y": {"datum": 37.43, "type": "quantitative", "axis": null}}
    },
    {
      "mark": {"type": "text", "text": "ε=10", "font": "Liberation Sans", "fontSize": 38, "angle": 316, "color": "#000000", "align": "center", "baseline": "middle"},
      "encoding": {"x": {"datum": 38.18, "type": "quantitative", "axis": null}, "y": {"datum": 34.58, "type": "quantitative", "axis": null}}
    },
    {
      "mark": {"type": "text", "text": "-3", "font": "Liberation Sans", "fontSize": 26, "angle": 316, "color": "#000000", "align": "center", "baseline": "middle"},
      "encoding": {"x": {"datum": 38.52, "type": "quantitative", "axis": null}, "y": {"datum": 35.17, "type": "quantitative", "axis": null}}
    },
    {
      "mark": {"type": "text", "text": "ε=10", "font": "Liberation Sans", "fontSize": 38, "angle": 316, "color": "#000000", "align": "center", "baseline": "middle"},
      "encoding": {"x": {"datum": 38.18, "type": "quantitative", "axis": null}, "y": {"datum": 31.49, "type": "quantitative", "axis": null}}
    },
    {
      "mark": {"type": "text", "text": "-6", "font": "Liberation Sans", "fontSize": 26, "angle": 316, "color": "#000000", "align": "center", "baseline": "middle"},
      "encoding": {"x": {"datum": 38.52, "type": "quantitative", "axis": null}, "y": {"datum": 32.07, "type": "quantitative", "axis": null}}
    },
    {
      "mark": {"type": "text", "text": "ε=10", "font": "Liberation Sans", "fontSize": 38, "angle": 316, "color": "#000000", "align": "center", "baseline": "middle"},
      "encoding": {"x": {"datum": 38.18, "type": "quantitative", "axis": null}, "y": {"datum": 28.46, "type": "quantitative", "axis": null}}
    },
    {
      "mark": {"type": "text", "text": "-9", "font": "Liberation Sans", "fontSize": 26, "angle": 316, "color": "#000000", "align": "center", "baseline": "middle"},
      "encoding": {"x": {"datum": 38.52, "type": "quantitative", "axis": null}, "y": {"datum": 29.04, "type": "quantitative", "axis": null}}
    },
    {
      "mark": {"type": "text", "text": "log L", "font": "Liberation Sans", "fontSize": 48, "color": "#000000", "align": "left", "baseline": "alphabetic"},
      "encoding": {"x": {"datum": 31.61, "type": "quantitative", "axis": null}, "y": {"datum": 22.74, "type": "quantitative", "axis": null}}
    },
    {
      "mark": {"type": "text", "text": "sd", "font": "Liberation Sans", "fontSize": 42, "color": "#000000", "align": "left", "baseline": "alphabetic"},
      "encoding": {"x": {"datum": 32.89, "type": "quantitative", "axis": null}, "y": {"datum": 22.59, "type": "quantitative", "axis": null}}
    },
    {
      "mark": {"type": "text", "text": "[erg/s]", "font": "Liberation Sans", "fontSize": 48, "color": "#000000", "align": "left", "baseline": "alphabetic"},
      "encoding": {"x": {"datum": 33.65, "type": "quantitative", "axis": null}, "y": {"datum": 22.74, "type": "quantitative", "axis": null}}
    },
    {
      "mark": {"type": "text", "text": "log L", "font": "Liberation Sans", "fontSize": 48, "angle": 270, "color": "#000000", "align": "left", "baseline": "alphabetic"},
      "encoding": {"x": {"datum": 26.54, "type": "quantitative", "axis": null}, "y": {"datum": 27.56, "type": "quantitative", "axis": null}}
    },
    {
      "mark": {"type": "text", "text": "γ,X,opt,radio", "font": "Liberation Sans", "fontSize": 44, "angle": 270, "color": "#000000", "align": "left", "baseline": "alphabetic"},
      "encoding": {"x": {"datum": 26.73, "type": "quantitative", "axis": null}, "y": {"datum": 28.90, "type": "quantitative", "axis": null}}
    },
    {
      "mark": {"type": "text", "text": "[erg/s]", "font": "Liberation Sans", "fontSize": 48, "angle": 270, "color": "#000000", "align": "left", "baseline": "alphabetic"},
      "encoding": {"x": {"datum": 26.54, "type": "quantitative", "axis": null}, "y": {"datum": 32.22, "type": "quantitative", "axis": null}}
    }
  ],
  "resolve": {"axis": {"x": "independent", "y": "independent"}}
}
